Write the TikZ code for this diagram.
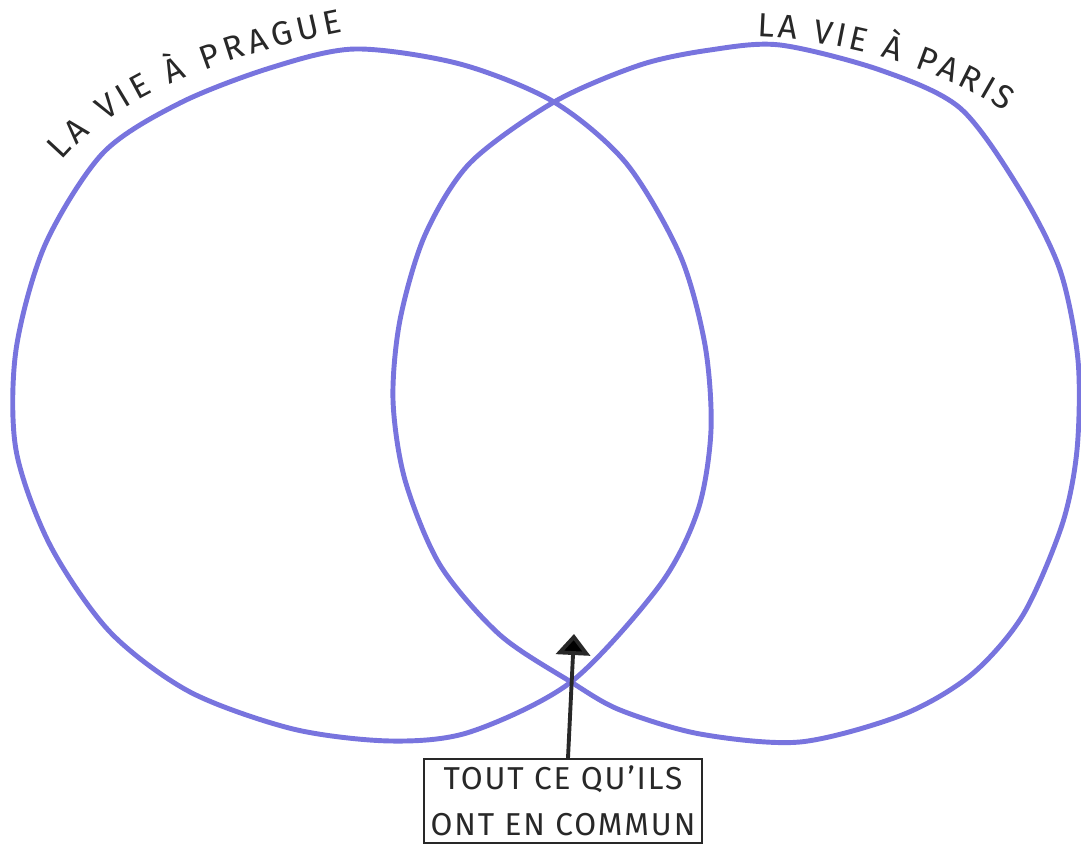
\documentclass[tikz,border=0pt]{standalone}
\usepackage{fontspec}
\setmainfont{Fira Sans}
\usetikzlibrary{arrows.meta,decorations.text}
\definecolor{penBlue}{RGB}{120, 116, 222}
\definecolor{inkGrey}{RGB}{40, 40, 40}
\newcommand{\handfont}{\fontsize{9.5}{11}\selectfont}
\newcommand{\boxfont}{\fontsize{9}{11}\selectfont}

\begin{document}
\begin{tikzpicture}[x=0.01cm, y=0.01cm,
    setline/.style={penBlue, line width=1.4pt, line join=round},
    setlabel/.style={decorate, decoration={text along path, text align=fit to path, text color=inkGrey}},
    notebox/.style={draw=inkGrey, line width=0.6pt, minimum width=2.72cm, minimum height=0.82cm,
      align=center, inner sep=2pt, text=inkGrey, font=\boxfont\addfontfeature{LetterSpace=6}},
    pointer/.style={draw=inkGrey, line width=1.1pt, -{Triangle[length=0.21cm, width=0.34cm]}}]
  \useasboundingbox (0,0) rectangle (1081,845);

  % Prague
  \draw[setline] plot[smooth cycle] coordinates {
    (355,796) (460,781) (554,743) (626,682) (680,590) (705,500) (711,415) (698,335)
    (660,260) (571,163) (470,113) (390,104) (293,116) (190,153) (110,213) (50,300)
    (16,395) (16,495) (45,600) (103,692) (180,742) (270,777)};

  % Paris
  \draw[setline] plot[smooth cycle] coordinates {
    (780,800) (880,775) (960,737) (1020,655) (1060,575) (1078,485) (1077,395) (1062,320)
    (1023,230) (971,170) (902,130) (800,103) (700,111) (620,135) (571,163) (500,210)
    (440,280) (405,365) (393,445) (400,525) (425,610) (470,682) (554,743) (640,780) (710,795)};

  \path[setlabel, decoration={text={|\handfont|LA VIE À PRAGUE}}]
    (62,684) .. controls (110,740) and (200,785) .. (343,813);
  \path[setlabel, decoration={text={|\handfont|LA VIE À PARIS}}]
    (757,808) .. controls (830,806) and (940,780) .. (1005,733);

  \node[notebox] (common) at (563,44) {TOUT CE QU'ILS\\[2pt] ONT EN COMMUN};
  \coordinate (overlap) at (574,211);
  \draw[pointer] ([xshift=0.05cm]common.north) -- (overlap);
\end{tikzpicture}
\end{document}
